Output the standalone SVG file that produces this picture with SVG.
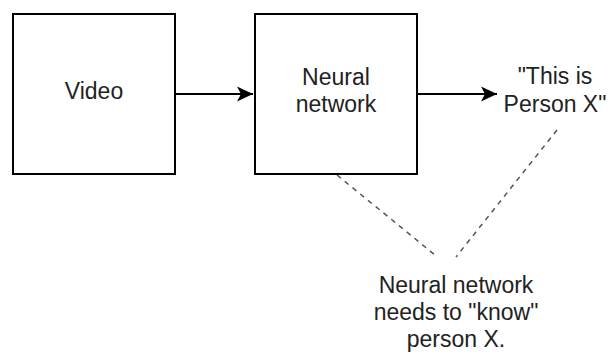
<svg xmlns="http://www.w3.org/2000/svg" width="611" height="354" viewBox="0 0 611 354">
  <style>
    .box { fill: #ffffff; stroke: #000000; stroke-width: 2; }
    .lbl { font-family: "Liberation Sans", Arial, sans-serif; font-size: 23px; fill: #222222; text-anchor: middle; }
    .edge { stroke: #000000; stroke-width: 2; fill: none; }
    .dash { stroke: #555555; stroke-width: 1.5; stroke-dasharray: 5 5; fill: none; }
  </style>
  <defs>
    <marker id="arrow" markerUnits="userSpaceOnUse" markerWidth="18" markerHeight="16" refX="16" refY="8" orient="auto">
      <path d="M0,0.5 L16,8 L0,15.5 L4,8 Z" fill="#000000"/>
    </marker>
  </defs>
  <rect width="611" height="354" fill="#ffffff"/>
  <g id="node-video">
    <rect class="box" x="13" y="14" width="162" height="160"/>
    <text class="lbl" x="94" y="99">Video</text>
  </g>
  <g id="node-neural">
    <rect class="box" x="255" y="14" width="162" height="160"/>
    <text class="lbl" x="336" y="85">Neural</text>
    <text class="lbl" x="336" y="112">network</text>
  </g>
  <g id="node-output">
    <text class="lbl" x="555" y="84">"This is</text>
    <text class="lbl" x="555" y="112">Person X"</text>
  </g>
  <g id="node-note">
    <text class="lbl" x="456" y="293">Neural network</text>
    <text class="lbl" x="456" y="320">needs to "know"</text>
    <text class="lbl" x="456" y="347">person X.</text>
  </g>
  <g id="connectors">
    <line class="edge" x1="175" y1="94" x2="253" y2="94" marker-end="url(#arrow)"/>
    <line class="edge" x1="417" y1="94" x2="497" y2="94" marker-end="url(#arrow)"/>
    <line class="dash" x1="337" y1="175" x2="435" y2="255"/>
    <line class="dash" x1="557" y1="130" x2="456" y2="257"/>
  </g>
</svg>
